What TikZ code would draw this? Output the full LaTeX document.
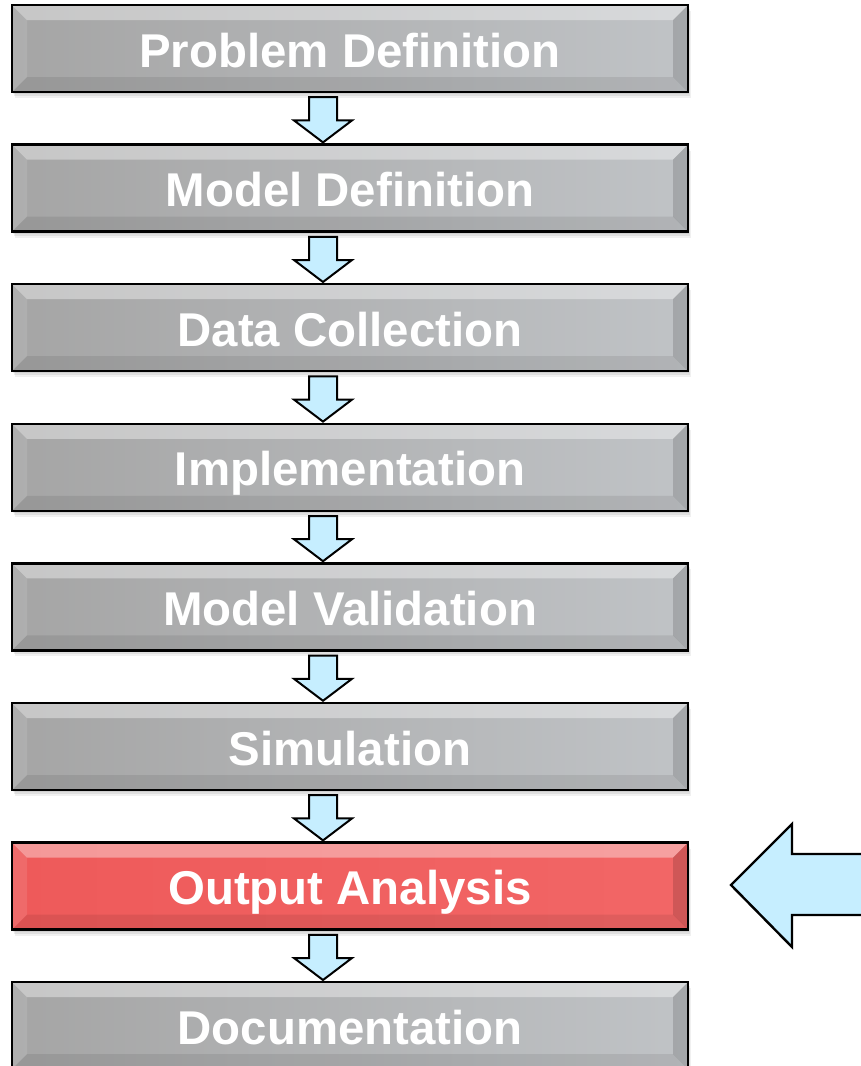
\documentclass[tikz,border=0pt]{standalone}
\usepackage{fontspec}
\setmainfont{Liberation Sans}
\usetikzlibrary{calc}

\definecolor{grayL}{HTML}{A5A5A5}
\definecolor{grayR}{HTML}{C0C3C6}
\definecolor{redL}{HTML}{EE5A5A}
\definecolor{redR}{HTML}{F26666}
\definecolor{flowfill}{HTML}{C6EEFF}

\tikzset{
  bevelled/.style={path picture={
    \coordinate (nw) at (path picture bounding box.north west);
    \coordinate (ne) at (path picture bounding box.north east);
    \coordinate (sw) at (path picture bounding box.south west);
    \coordinate (se) at (path picture bounding box.south east);
    \fill[white,opacity=0.38] (nw) -- (ne) -- ($(ne)+(-15pt,-15pt)$) -- ($(nw)+(15pt,-15pt)$) -- cycle;
    \fill[black,opacity=0.14] (ne) -- (se) -- ($(se)+(-15pt,15pt)$) -- ($(ne)+(-15pt,-15pt)$) -- cycle;
    \fill[black,opacity=0.08] (se) -- (sw) -- ($(sw)+(15pt,15pt)$) -- ($(se)+(-15pt,15pt)$) -- cycle;
    \fill[white,opacity=0.10] (sw) -- (nw) -- ($(nw)+(15pt,-15pt)$) -- ($(sw)+(15pt,15pt)$) -- cycle;
  }},
  softshadow/.style={
    preaction={fill=black,opacity=0.07,transform canvas={xshift=1pt,yshift=-2pt}},
    preaction={fill=black,opacity=0.07,transform canvas={xshift=2pt,yshift=-4pt}},
    preaction={fill=black,opacity=0.06,transform canvas={xshift=2.5pt,yshift=-6pt}}},
  stage/.style={draw=black, line width=2.4pt, rectangle,
    minimum width=676pt, minimum height=87pt, inner sep=0pt,
    text height=37pt, text depth=0pt,
    font=\fontsize{47.4}{50}\selectfont\bfseries, text=white,
    softshadow, bevelled},
  graystage/.style={stage, left color=grayL, right color=grayR},
  redstage/.style={stage, left color=redL, right color=redR},
  flow/.style={draw=black, line width=2pt, fill=flowfill, line join=miter},
}

\begin{document}
\begin{tikzpicture}[x=1pt,y=-1pt]
\useasboundingbox (0,0) rectangle (860,1066);

\node[graystage] (b1) at (350,48.5)   {Problem Definition};
\node[graystage] (b2) at (350,188.1)  {Model Definition};
\node[graystage] (b3) at (350,327.7)  {Data Collection};
\node[graystage] (b4) at (350,467.3)  {Implementation};
\node[graystage] (b5) at (350,606.9)  {Model Validation};
\node[graystage] (b6) at (350,746.5)  {Simulation};
\node[redstage]  (b7) at (350,886.1)  {Output Analysis};
\node[graystage] (b8) at (350,1025.7) {Documentation};

% block arrows linking consecutive stages
\foreach \a/\b in {b1/b2,b2/b3,b3/b4,b4/b5,b5/b6,b6/b7,b7/b8}{
  \draw[flow] ($(\a.south)+(-41pt,-4pt)$) -- ($(\a.south)+(-13pt,-4pt)$)
    -- ($(\b.north)+(-13pt,23pt)$) -- ($(\b.north)+(2pt,23pt)$)
    -- ($(\b.north)+(-27pt,1pt)$) -- ($(\b.north)+(-56pt,23pt)$)
    -- ($(\b.north)+(-41pt,23pt)$) -- cycle;
}

% pointer towards the highlighted stage
\coordinate (tip) at (731,885);
\draw[flow, line width=2.4pt] (tip) -- (792,824) -- (792,854) -- (875,854)
  -- (875,915) -- (792,915) -- (792,947) -- cycle;
\end{tikzpicture}
\end{document}
